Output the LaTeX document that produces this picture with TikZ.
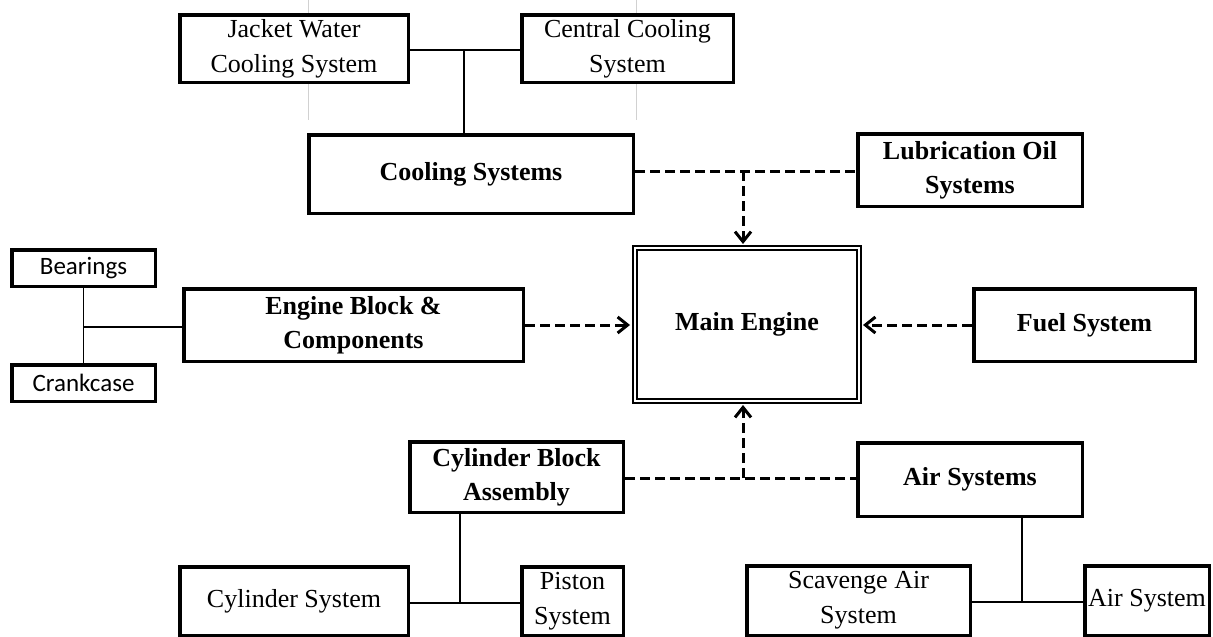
\documentclass[tikz,border=0pt]{standalone}
\usepackage{fontspec}
\setmainfont{Liberation Serif}
\newfontfamily\calfont{Carlito}
\usetikzlibrary{arrows.meta}
\tikzset{
  bx/.style={draw, line width=3.5pt, inner sep=0pt, align=center, font=\fontsize{26}{35}\selectfont},
  bxb/.style={bx, font=\fontsize{26}{34}\selectfont\bfseries},
  bxc/.style={bx, font=\calfont\fontsize{25}{30}\selectfont},
  conn/.style={line width=1.5pt},
  faint/.style={line width=1pt, black!18},
  dsh/.style={line width=3pt, dash pattern=on 10pt off 5pt},
  tip/.style={-{Straight Barb[length=10pt,width=16pt]}}
}
\newcommand\mkbox[7][bx]{%
  \node[#1, minimum width={(#5-#3-3.5)*1pt}, minimum height={(#6-#4-3.5)*1pt}] (#2)
    at ({(#3+#5)/2},{(#4+#6)/2}) {#7};}
\begin{document}
\begin{tikzpicture}[x=1pt,y=-1pt]
\useasboundingbox (0,0) rectangle (1213,637);
\fill[white] (0,0) rectangle (1213,637);

% faint guide lines
\draw[faint] (308,0) -- (308,13);
\draw[faint] (308,84) -- (308,120);
\draw[faint] (636,0) -- (636,13);
\draw[faint] (636,84) -- (636,120);

% boxes
\mkbox{jw}{178}{13}{410}{84}{Jacket Water\\Cooling System}
\mkbox{cc}{520}{13}{735}{84}{Central Cooling\\System}
\mkbox[bxb]{cs}{307}{133}{635}{215}{Cooling Systems}
\mkbox[bxb]{lub}{856}{132}{1084}{208}{Lubrication Oil\\Systems}
\node[draw, double, line width=2pt, double distance=2pt, inner sep=0pt,
      minimum width=224pt, minimum height=153pt,
      font=\fontsize{26}{34}\selectfont\bfseries] (me) at (747,324.5) {Main Engine};
\mkbox[bxc]{bear}{10}{248}{157}{288}{Bearings}
\mkbox[bxc]{crank}{10}{363}{157}{403}{Crankcase}
\mkbox[bxb]{eb}{182}{287}{525}{363}{Engine Block \&\\Components}
\mkbox[bxb]{fuel}{972}{287}{1197}{363}{Fuel System}
\mkbox[bxb]{cba}{408}{440}{625}{514}{Cylinder Block\\Assembly}
\mkbox[bxb]{air}{856}{441}{1084}{518}{Air Systems}
\mkbox{cyl}{178}{565}{410}{637}{Cylinder System}
\mkbox{pist}{520}{565}{625}{637}{Piston\\System}
\mkbox{scav}{745}{564}{972}{637}{Scavenge Air\\System}
\mkbox{airs}{1083}{564}{1211}{637}{Air System}

% solid connectors
\coordinate (j1) at (464,50);
\draw[conn] (jw.east |- j1) -- (cc.west |- j1);
\draw[conn] (j1) -- (j1 |- cs.north);

\coordinate (b1) at (83.5,327);
\draw[conn] (bear.south) -- (crank.north);
\draw[conn] (b1) -- (b1 -| eb.west);

\coordinate (c1) at (460,603);
\draw[conn] (c1 |- cba.south) -- (c1);
\draw[conn] (cyl.east |- c1) -- (pist.west |- c1);

\coordinate (a1) at (1022,602);
\draw[conn] (a1 |- air.south) -- (a1);
\draw[conn] (scav.east |- a1) -- (airs.west |- a1);

% dashed connectors
\coordinate (d1) at (743,171);
\draw[dsh] (cs.east |- d1) -- (lub.west |- d1);
\draw[dsh, tip, shorten >=3pt] (d1) -- (d1 |- me.north);

\draw[dsh, tip, shorten >=4pt] (eb.east) -- (me.west |- eb.east);
\draw[dsh, tip, shorten >=3pt] (fuel.west) -- (me.east |- fuel.west);

\coordinate (d2) at (743,478);
\draw[dsh] (cba.east |- d2) -- (air.west |- d2);
\draw[dsh, tip, shorten >=3pt] (d2) -- (d2 |- me.south);
\end{tikzpicture}
\end{document}
